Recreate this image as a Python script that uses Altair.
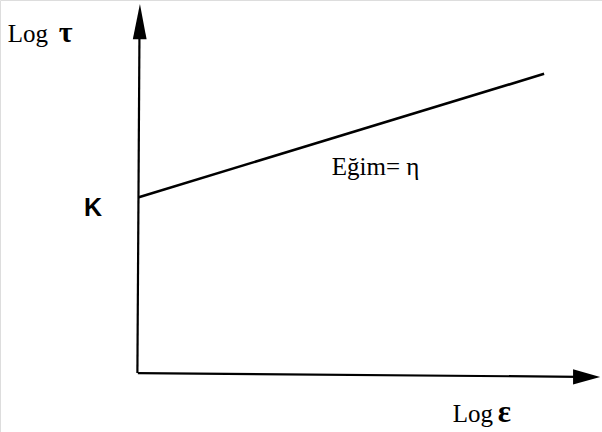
import altair as alt
import pandas as pd

# Diagram of the power law  log τ = K + η · log ε
# Coordinates are in diagram units (log ε horizontally, log τ vertically).

# Axes (slightly hand-drawn: a small tilt on each)
x_axis_x = [0.0, 9.60]
x_axis_y = [0.0, -0.095]
y_axis_x = [-0.01, 0.035]
y_axis_y = [0.0, 8.70]

# The straight line starting at the intercept K
line_x = [0.02, 8.84]
line_y = [4.48, 7.62]

# Arrow heads (tip, base-left, base-right)
x_head_x = [9.47, 10.06]
x_head_lo = [-0.29, -0.10]
x_head_hi = [0.10, -0.10]
y_head_y = [8.50, 9.40]
y_head_lo = [-0.11, 0.045]
y_head_hi = [0.19, 0.045]

# Text labels
lbl_text = ["Log", "τ", "K", "Eğim= η", "Log", "ε"]
lbl_x = [-2.83, -1.72, -1.17, 4.22, 6.85, 7.83]
lbl_y = [8.44, 8.44, 4.00, 5.04, -1.24, -1.24]
lbl_font = ["Liberation Serif", "Liberation Serif", "Liberation Sans",
            "Liberation Serif", "Liberation Serif", "Liberation Serif"]
lbl_weight = ["normal", "bold", "bold", "normal", "normal", "bold"]
lbl_size = [25, 30, 25, 25, 25, 31]

X = alt.Scale(domain=[-3.0, 10.1], nice=False, zero=False)
Y = alt.Scale(domain=[-1.5, 9.5], nice=False, zero=False)
noax = None


def seg(xs, ys, width):
    df = pd.DataFrame({"x": xs, "y": ys, "o": range(len(xs))})
    return alt.Chart(df).mark_line(color="black", strokeWidth=width, strokeCap="butt").encode(
        x=alt.X("x:Q", scale=X, axis=noax),
        y=alt.Y("y:Q", scale=Y, axis=noax),
        order="o:Q",
    )


x_axis = seg(x_axis_x, x_axis_y, 2.2)
y_axis = seg(y_axis_x, y_axis_y, 2.2)
main_line = seg(line_x, line_y, 2.6)

x_head = alt.Chart(pd.DataFrame({"x": x_head_x, "lo": x_head_lo, "hi": x_head_hi})).mark_area(
    color="black", orient="vertical", opacity=1
).encode(
    x=alt.X("x:Q", scale=X, axis=noax),
    y=alt.Y("lo:Q", scale=Y, axis=noax),
    y2="hi:Q",
)

y_head = alt.Chart(pd.DataFrame({"y": y_head_y, "lo": y_head_lo, "hi": y_head_hi})).mark_area(
    color="black", orient="horizontal", opacity=1
).encode(
    y=alt.Y("y:Q", scale=Y, axis=noax),
    x=alt.X("lo:Q", scale=X, axis=noax),
    x2="hi:Q",
)

labels = []
for t, xx, yy, f, w, s in zip(lbl_text, lbl_x, lbl_y, lbl_font, lbl_weight, lbl_size):
    labels.append(
        alt.Chart(pd.DataFrame({"x": [xx], "y": [yy], "t": [t]})).mark_text(
            align="left", baseline="alphabetic", font=f, fontWeight=w, fontSize=s, color="black"
        ).encode(
            x=alt.X("x:Q", scale=X, axis=noax),
            y=alt.Y("y:Q", scale=Y, axis=noax),
            text="t:N",
        )
    )

chart = alt.layer(x_axis, y_axis, main_line, x_head, y_head, *labels).properties(
    width=602, height=432, padding=0, autosize=alt.AutoSizeParams(type="none")
).configure_view(stroke=None).configure(background="white")

chart.save("out.html", embed_options={"renderer": "svg", "actions": False})
